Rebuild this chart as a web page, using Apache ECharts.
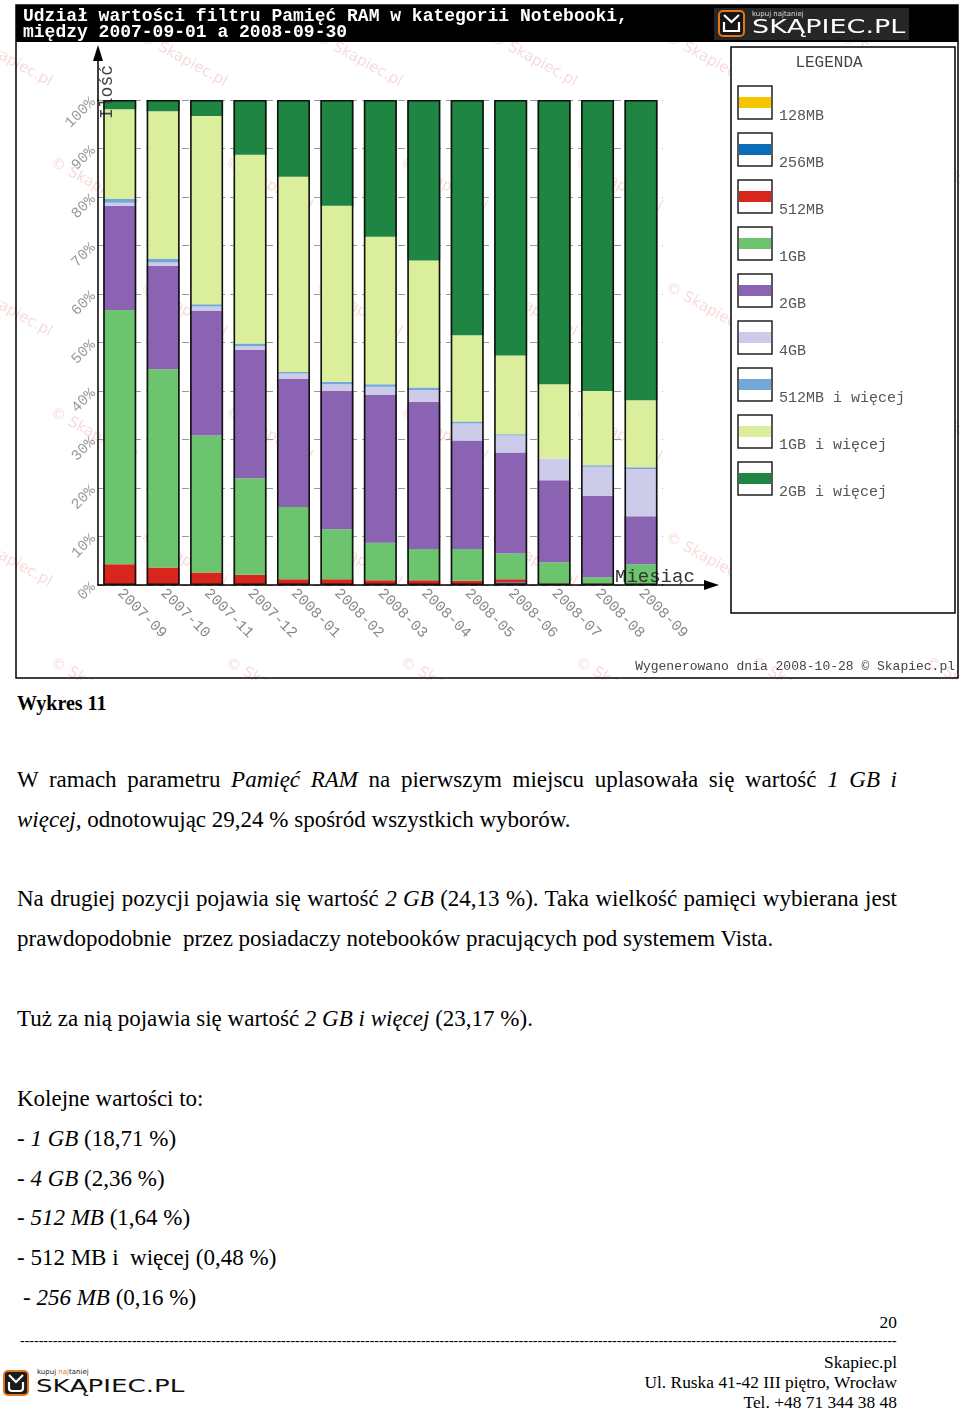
<!DOCTYPE html>
<html><head><meta charset="utf-8">
<script src="https://cdn.jsdelivr.net/npm/echarts@6/dist/echarts.min.js"></script>
<style>
body{margin:0;background:#fff;width:960px;height:1411px;position:relative;overflow:hidden;font-family:'Liberation Serif','Times New Roman',serif;color:#000}
#chart{position:absolute;left:0;top:0;width:960px;height:680px}
.t{position:absolute;left:17px;font-size:23px;line-height:26px;white-space:nowrap}
.j{width:880px;text-align:justify;text-align-last:justify;white-space:normal}
.r{position:absolute;right:63px;font-size:17.4px;line-height:20px;white-space:nowrap;text-align:right}
</style></head><body>
<div id="chart"></div>
<div class="t" style="top:691px;font-weight:bold;font-size:20px;line-height:24px">Wykres 11</div>
<div class="t j" style="top:767px">W ramach parametru <i>Pamięć RAM</i> na pierwszym miejscu uplasowała się wartość <i>1 GB i</i></div>
<div class="t" style="top:807px"><i>więcej,</i> odnotowując 29,24 % spośród wszystkich wyborów.</div>
<div class="t j" style="top:886px">Na drugiej pozycji pojawia się wartość <i>2 GB</i> (24,13 %). Taka wielkość pamięci wybierana jest</div>
<div class="t" style="top:926px">prawdopodobnie&nbsp; przez posiadaczy notebooków pracujących pod systemem Vista.</div>
<div class="t" style="top:1006px">Tuż za nią pojawia się wartość <i>2 GB i więcej</i> (23,17 %).</div>
<div class="t" style="top:1086px">Kolejne wartości to:</div>
<div class="t" style="top:1126px">- <i>1 GB</i> (18,71 %)</div>
<div class="t" style="top:1166px">- <i>4 GB</i> (2,36 %)</div>
<div class="t" style="top:1205px">- <i>512 MB</i> (1,64 %)</div>
<div class="t" style="top:1245px">- 512 MB i&nbsp; więcej (0,48 %)</div>
<div class="t" style="top:1285px;left:23px">- <i>256 MB</i> (0,16 %)</div>
<div class="r" style="top:1312px">20</div>
<div style="position:absolute;left:20px;top:1333px;width:877px;overflow:hidden;white-space:nowrap;font-size:14px;line-height:16px">------------------------------------------------------------------------------------------------------------------------------------------------------------------------------------------------------------------------------------------------------------------------</div>
<div class="r" style="top:1352px">Skapiec.pl</div>
<div class="r" style="top:1372px">Ul. Ruska 41-42 III piętro, Wrocław</div>
<div class="r" style="top:1392px">Tel. +48 71 344 38 48</div>
<svg style="position:absolute;left:3px;top:1370px" width="26" height="26" viewBox="0 0 26 26">
<rect x="1" y="1" width="24" height="24" rx="4" fill="#1b1b1b" stroke="#e2761b" stroke-width="2"/>
<polyline points="6,5 13,12 20,5" fill="none" stroke="#fff" stroke-width="2.2"/>
<path d="M6,12 L6,18 Q6,21 9,21 L17,21 Q20,21 20,18 L20,12" fill="none" stroke="#fff" stroke-width="2.2"/>
</svg>
<div style="position:absolute;left:37px;top:1368px;font-family:'DejaVu Sans',sans-serif;font-size:7px;line-height:8px;color:#222">kupuj <span style="color:#e2761b">naj</span>taniej</div>
<div style="position:absolute;left:36px;top:1376px;font-family:'DejaVu Sans',sans-serif;font-size:18px;line-height:20px;color:#111;transform:scaleX(1.45);transform-origin:0 0">SKĄPIEC.PL</div>
<script>
const categories = ['2007-09','2007-10','2007-11','2007-12','2008-01','2008-02','2008-03','2008-04','2008-05','2008-06','2008-07','2008-08','2008-09'];
const seriesNames = ['128MB','256MB','512MB','1GB','2GB','4GB','512MB i więcej','1GB i więcej','2GB i więcej'];
const yTickLabels = ['0%','10%','20%','30%','40%','50%','60%','70%','80%','90%','100%'];
const v128MB     = [0,0,0,0,0,0,0,0,0,0,0,0,0];
const v256MB     = [0,0,0,0,0,0,0,0,0.2,0.5,0,0,0];
const v512MB     = [4.3,3.6,2.6,2.1,1.2,1.2,1.0,1.0,0.7,0.7,0.3,0.3,0];
const v1GB       = [52.4,40.9,28.2,19.9,14.9,10.3,7.7,6.4,6.5,5.3,4.4,1.3,4.3];
const v2GB       = [21.5,21.3,25.7,26.5,26.4,28.5,30.5,30.4,22.4,20.8,16.9,16.8,9.9];
const v4GB       = [0.6,0.7,0.9,0.8,1.1,1.4,1.7,2.4,3.5,3.5,4.5,6.0,9.7];
const v512MBplus = [0.8,0.7,0.5,0.5,0.3,0.5,0.5,0.5,0.4,0.3,0,0.3,0.4];
const v1GBplus   = [18.5,30.5,38.8,38.9,40.3,36.3,30.4,26.2,17.8,16.2,15.3,15.3,13.8];
const v2GBplus   = [1.9,2.3,3.3,11.3,15.8,21.8,28.2,33.1,48.5,52.7,58.6,60.0,61.9];

const seriesValues = [v128MB,v256MB,v512MB,v1GB,v2GB,v4GB,v512MBplus,v1GBplus,v2GBplus];
const seriesColors = ['#f6c500','#0b6cb8','#d9261c','#6cc46e','#8a64b3','#cccbea','#72a8d8','#daee9c','#1f8542'];

const chart = echarts.init(document.getElementById('chart'), null, {renderer:'canvas'});
const MONO = '"Liberation Mono","DejaVu Sans Mono",monospace';

const series = seriesNames.map((n,i)=>({
  name:n, type:'bar', stack:'ram', barWidth:33, barGap:'-100%', silent:true,
  data:seriesValues[i], itemStyle:{color:seriesColors[i]}
}));
const totals = categories.map((_,j)=>seriesValues.reduce((s,a)=>s+a[j],0));
series.push({name:'outline', type:'bar', barWidth:33, barGap:'-100%', silent:true, z:5,
  data:totals, itemStyle:{color:'rgba(0,0,0,0)', borderColor:'#111', borderWidth:1.6}});

const graphic = [];
// watermarks
for (let r=0;r<6;r++){
  for (let c=0;c<6;c++){
    const x = -30 + c*175 + (r%2? 85:0);
    const y = 30 + r*125;
    graphic.push({type:'text', z:-1, x:x, y:y, rotation:-0.5,
      style:{text:'© Skapiec.pl', fill:'rgba(235,150,150,0.35)', font:'15px "DejaVu Sans",sans-serif'}});
  }
}
// frame and header
graphic.push({type:'rect', z:1, shape:{x:16,y:5,width:942,height:673}, style:{fill:'none', stroke:'#000', lineWidth:1.5}});
graphic.push({type:'rect', z:1, shape:{x:16,y:5,width:942,height:37}, style:{fill:'#000'}});
graphic.push({type:'text', z:2, style:{x:23,y:16,text:'Udział wartości filtru Pamięć RAM w kategorii Notebooki,', fill:'#fff', font:'bold 18px '+MONO, textVerticalAlign:'middle'}});
graphic.push({type:'text', z:2, style:{x:23,y:32,text:'między 2007-09-01 a 2008-09-30', fill:'#fff', font:'bold 18px '+MONO, textVerticalAlign:'middle'}});
// header logo
graphic.push({type:'rect', z:2, shape:{x:714,y:8,width:195,height:32}, style:{fill:'#262626'}});
graphic.push({type:'rect', z:3, shape:{x:719,y:11,width:25,height:25,r:4}, style:{fill:'#151515', stroke:'#e2761b', lineWidth:2}});
graphic.push({type:'polyline', z:4, shape:{points:[[724,15],[731.5,22],[739,15]]}, style:{stroke:'#fff', lineWidth:2.2, fill:'none'}});
graphic.push({type:'polyline', z:4, shape:{points:[[724,22],[724,31],[739,31],[739,22]]}, style:{stroke:'#fff', lineWidth:2.2, fill:'none'}});
graphic.push({type:'text', z:4, style:{x:752,y:14,text:'kupuj najtaniej', fill:'#ddd', font:'7px "DejaVu Sans",sans-serif', textVerticalAlign:'middle'}});
graphic.push({type:'text', z:4, x:752, y:28, scaleX:1.42, style:{x:0,y:0,text:'SKĄPIEC.PL', fill:'#fff', font:'19px "DejaVu Sans",sans-serif', textVerticalAlign:'middle'}});
// legend
graphic.push({type:'rect', z:1, shape:{x:731,y:47,width:224,height:566}, style:{fill:'#fff', stroke:'#000', lineWidth:1.5}});
graphic.push({type:'text', z:2, style:{x:829,y:63,text:'LEGENDA', fill:'#444', font:'16px '+MONO, textAlign:'center', textVerticalAlign:'middle'}});
seriesNames.forEach((n,i)=>{
  graphic.push({type:'rect', z:2, shape:{x:738,y:86+47*i,width:34,height:33}, style:{fill:'#fff', stroke:'#222', lineWidth:1.5}});
  graphic.push({type:'rect', z:3, shape:{x:739,y:97+47*i,width:32,height:11}, style:{fill:seriesColors[i]}});
  graphic.push({type:'text', z:3, style:{x:779,y:116+47*i,text:n, fill:'#555', font:'15px '+MONO, textVerticalAlign:'middle'}});
});
// axis extensions and arrows
graphic.push({type:'line', z:3, shape:{x1:98,y1:101,x2:98,y2:56}, style:{stroke:'#000', lineWidth:1.5}});
graphic.push({type:'polygon', z:3, shape:{points:[[98,45],[93,61],[103,61]]}, style:{fill:'#000'}});
graphic.push({type:'line', z:3, shape:{x1:662,y1:585,x2:707,y2:585}, style:{stroke:'#000', lineWidth:1.5}});
graphic.push({type:'polygon', z:3, shape:{points:[[719,585],[704,580],[704,590]]}, style:{fill:'#000'}});
graphic.push({type:'text', z:3, style:{x:615,y:577,text:'Miesiąc', fill:'#333', font:'19px '+MONO, textVerticalAlign:'middle'}});
graphic.push({type:'text', z:3, x:107, y:119, rotation:Math.PI/2, style:{x:0,y:0,text:'Ilość', fill:'#444', font:'18px '+MONO, textVerticalAlign:'middle'}});
graphic.push({type:'text', z:3, style:{x:955,y:667,text:'Wygenerowano dnia 2008-10-28 © Skapiec.pl', fill:'#444', font:'13px '+MONO, textAlign:'right', textVerticalAlign:'middle'}});

chart.setOption({
  animation:false,
  backgroundColor:'#fff',
  grid:{left:98, right:297.3, top:100, bottom:95, containLabel:false},
  xAxis:{type:'category', data:categories,
    axisLine:{lineStyle:{color:'#000', width:1.5}}, axisTick:{show:false},
    axisLabel:{rotate:-45, margin:6, color:'#888', fontFamily:'Liberation Mono', fontSize:15}},
  yAxis:{type:'value', min:0, max:100, interval:10,
    axisLine:{show:true, lineStyle:{color:'#000', width:1.5}}, axisTick:{show:false},
    axisLabel:{rotate:45, margin:5, color:'#999', fontFamily:'Liberation Mono', fontSize:15,
      formatter:v=>yTickLabels[Math.round(v/10)]},
    splitLine:{show:true, lineStyle:{color:'#9a9a9a', width:1, type:[7,5]}}},
  series:series,
  graphic:graphic
});
</script>
</body></html>
